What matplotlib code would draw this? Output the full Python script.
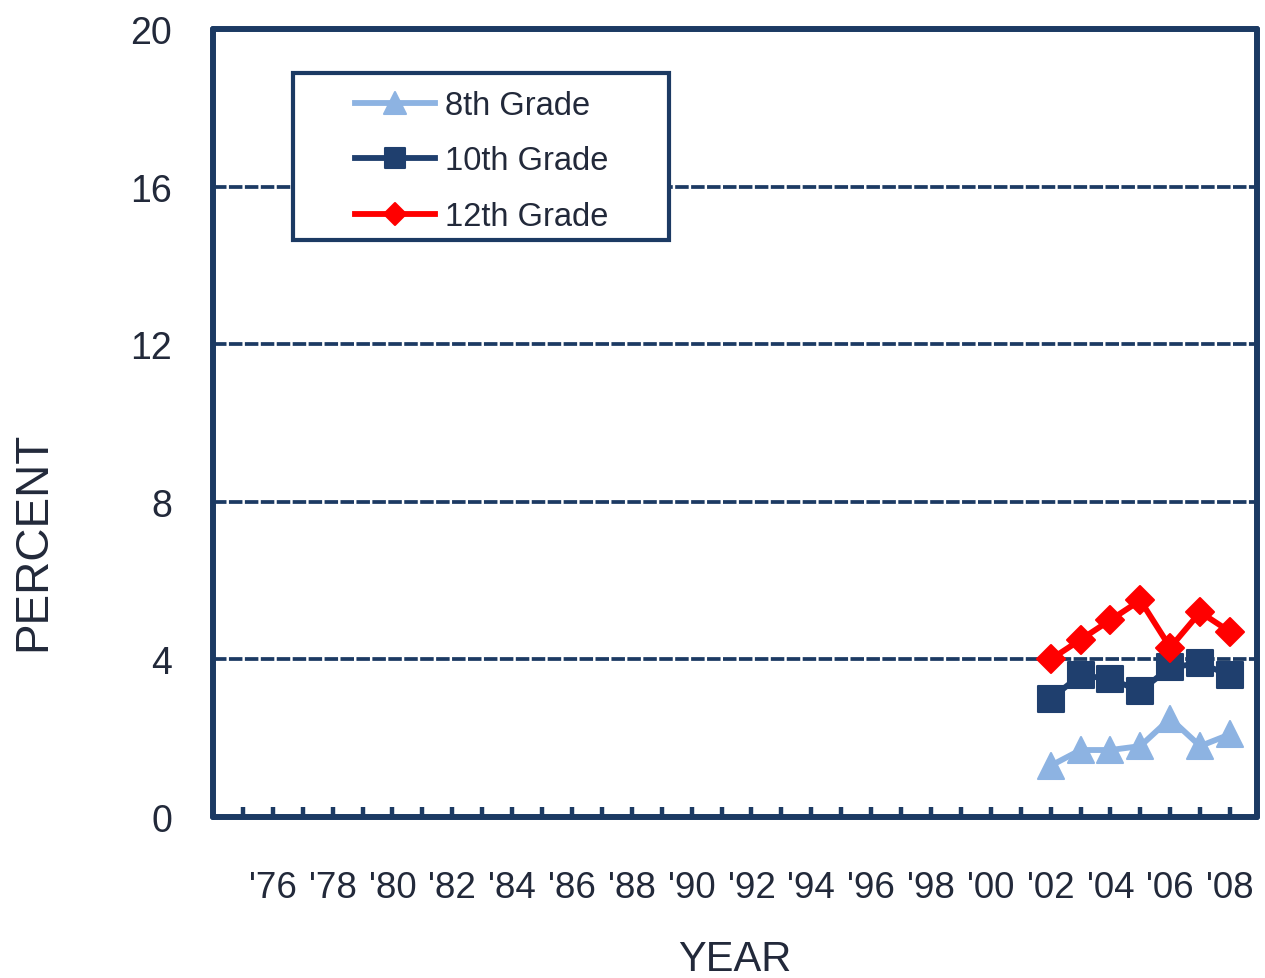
import matplotlib
matplotlib.use("Agg")
import matplotlib.pyplot as plt
from matplotlib.markers import MarkerStyle
from matplotlib.patches import Rectangle

# Annual prevalence by grade, 2002-2008
years = [2002, 2003, 2004, 2005, 2006, 2007, 2008]
grade8 = [1.3, 1.7, 1.7, 1.8, 2.5, 1.8, 2.1]
grade10 = [3.0, 3.6, 3.5, 3.2, 3.8, 3.9, 3.6]
grade12 = [4.0, 4.5, 5.0, 5.5, 4.3, 5.2, 4.7]

series_labels = ["8th Grade", "10th Grade", "12th Grade"]
tick_years = list(range(1975, 2009))
y_ticks = [0, 4, 8, 12, 16, 20]

NAVY = "#1C3A63"
TEXT = "#22293A"
LIGHT = "#8DB3E2"
DARK = "#1F3F6E"
RED = "#FF0000"

plt.rcParams["font.family"] = ["Liberation Sans", "DejaVu Sans"]

fig = plt.figure(figsize=(12.65, 9.79), dpi=100)
ax = fig.add_axes([213 / 1265, 1 - 818 / 979, (1257 - 213) / 1265, (818 - 30) / 979])

styles = [
    dict(color=LIGHT, marker=MarkerStyle("^", joinstyle="round"), ms=19),
    dict(color=DARK, marker=MarkerStyle("s", joinstyle="round"), ms=18.5),
    dict(color=RED, marker=MarkerStyle("D", joinstyle="round"), ms=14),
]
handles = []
for vals, st, lab in zip([grade8, grade10, grade12], styles, series_labels):
    (ln,) = ax.plot(years, vals, color=st["color"], lw=4.2, marker=st["marker"],
                    ms=st["ms"], mfc=st["color"], mec=st["color"], mew=1.5,
                    solid_joinstyle="round", label=lab, zorder=3)
    handles.append(ln)

ax.set_xlim(1974.0, 2008.9)
ax.set_ylim(0, 20)

# horizontal dashed gridlines
for yv in y_ticks[1:-1]:
    ax.axhline(yv, color=NAVY, lw=2.7, ls=(0, (3.6, 0.65)), zorder=1)

ax.set_yticks(y_ticks)
ax.set_yticklabels([str(v) for v in y_ticks])
ax.set_xticks(tick_years)
ax.set_xticklabels(["'" + str(y)[2:] if y % 2 == 0 else "" for y in tick_years])

ax.tick_params(axis="y", length=0, pad=29.5, labelsize=27, labelcolor=TEXT)
ax.tick_params(axis="x", direction="in", length=7, width=3.2, color=NAVY,
               pad=38, labelsize=26.5, labelcolor=TEXT)

for sp in ax.spines.values():
    sp.set_color(NAVY)
    sp.set_linewidth(4.3)
    sp.set_capstyle("round")

fig.text(735 / 1265, 1 - 960 / 979, "YEAR", ha="center", va="center",
         fontsize=30, color=TEXT)
fig.text(33 / 1265, 1 - 541 / 979, "PERCENT", ha="center", va="center",
         rotation=90, fontsize=33, color=TEXT)

# legend frame and entries
frame = Rectangle((80 / 1044, (818 - 241) / 788), (669 - 293) / 1044, (241 - 74) / 788,
                  transform=ax.transAxes, facecolor="white", edgecolor=NAVY,
                  lw=3, zorder=4)
ax.add_patch(frame)
leg = ax.legend(handles=handles, loc="center left",
                bbox_to_anchor=(142 / 1044, (818 - 162) / 788),
                frameon=False, fontsize=23.5, handlelength=2.45, handletextpad=0.3,
                labelspacing=0.75, borderpad=0, borderaxespad=0,
                markerscale=0.8, labelcolor=TEXT)
leg.set_zorder(5)

fig.savefig("out.png", dpi=100, facecolor="white")
